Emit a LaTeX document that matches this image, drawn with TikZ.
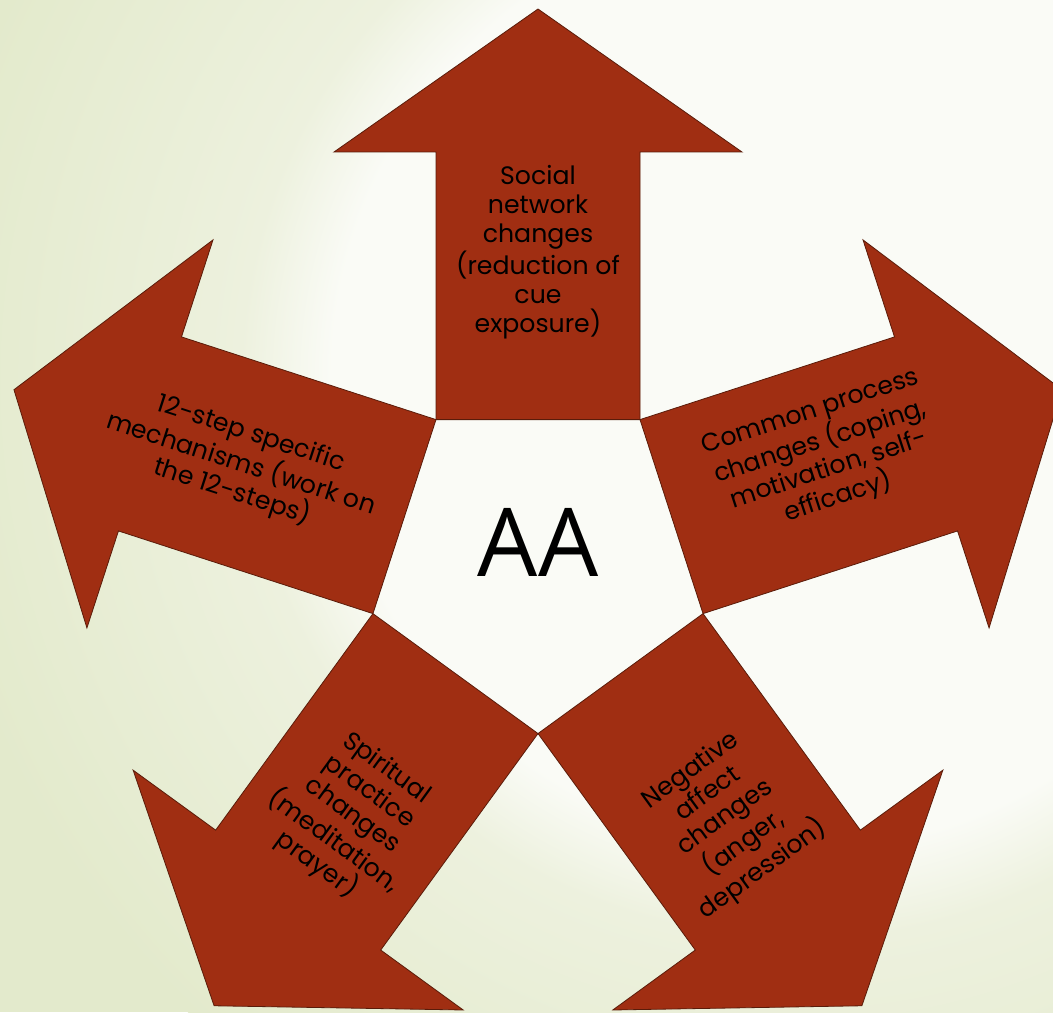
\documentclass[tikz,border=0pt]{standalone}
\usepackage{fontspec}
\setmainfont{Poppins}
\newfontfamily\aafont{Open Sans}
\definecolor{arrowred}{RGB}{160,46,18}
\definecolor{arrowedge}{RGB}{90,28,10}
\definecolor{bgwhite}{RGB}{250,251,246}
\definecolor{bgmid}{RGB}{237,241,222}
\definecolor{bgouter}{RGB}{227,234,204}
\pgfdeclareradialshading{bgglow}{\pgfpointorigin}{color(0bp)=(bgwhite); color(13.3bp)=(bgwhite);
  color(15.9bp)=(bgmid); color(25bp)=(bgouter); color(50bp)=(bgouter)}
\tikzset{petal/.style={fill=arrowred,draw=arrowedge,line width=0.4pt,line join=miter}}
\tikzset{petaltext/.style={align=center,text=black,inner sep=0pt,
                           font=\fontsize{12.6}{14.5}\selectfont}}

\begin{document}
\begin{tikzpicture}[x=0.5pt,y=0.5pt]
  % page and background
  \useasboundingbox (-538,-452) rectangle (515,560);
  \clip (-538,-452) rectangle (515,560);
  \fill[bgouter] (-538,-452) rectangle (515,560);
  \shade[shading=bgglow] (262,180) circle (880);

  % the five arrows round the pentagon
  \foreach \a in {90,18,-54,-126,162}
    \draw[petal,rotate=\a] (140.4,-102) -- (408,-102) -- (408,-204) -- (551,0)
      -- (408,204) -- (408,102) -- (140.4,102) -- cycle;

  % centre
  \node (aa) [anchor=base,inner sep=0pt,font=\aafont\fontsize{47.5}{50}\selectfont] at (0,-16) {AA};

  % texts in the arrows
  \node (social)    [petaltext]           at (90:308)   {Social\\network\\changes\\(reduction of\\cue\\exposure)};
  \node (common)    [petaltext,rotate=18] at (20:305)   {Common process\\changes (coping,\\motivation, self-\\efficacy)};
  \node (negative)  [petaltext,rotate=36] at (-54:322)  {Negative\\affect\\changes\\(anger,\\depression)};
  \node (spiritual) [petaltext,rotate=-36] at (-126:318) {Spiritual\\practice\\changes\\(meditation,\\prayer)};
  \node (twelve)    [petaltext,rotate=-18] at (162:312) {12-step specific\\mechanisms (work on\\the 12-steps)};
\end{tikzpicture}
\end{document}
